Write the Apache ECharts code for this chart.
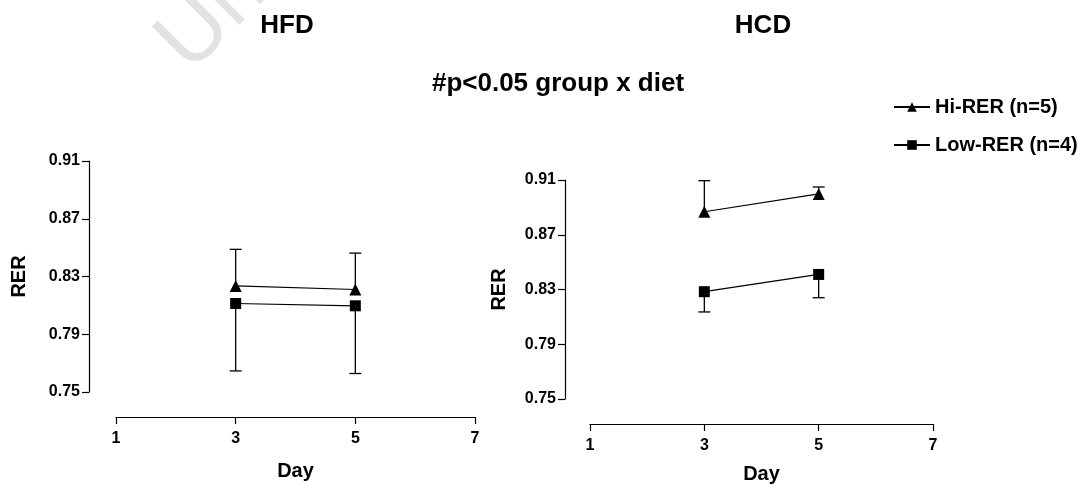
<!DOCTYPE html>
<html>
<head>
<meta charset="utf-8">
<script src="https://cdn.jsdelivr.net/npm/echarts@6/dist/echarts.min.js"></script>
<style>
html,body{margin:0;padding:0;background:#fff;}
#chart{width:1084px;height:485px;}
</style>
</head>
<body>
<div id="chart"></div>
<script>
// ---- data ----
const days = [3, 5];
const xTicks = [1, 3, 5, 7];
const yTicks = [0.75, 0.79, 0.83, 0.87, 0.91];
const seriesNames = ['Hi-RER (n=5)', 'Low-RER (n=4)'];
const panelTitles = ['HFD', 'HCD'];
const mainTitle = '#p<0.05 group x diet';

const hfdHiMean = [0.8235, 0.8210];
const hfdHiErr = [0.0253, 0.0252];     // upward
const hfdLowMean = [0.8113, 0.8097];
const hfdLowErr = [0.0467, 0.0469];    // downward

const hcdHiMean = [0.8868, 0.8998];
const hcdHiErr = [0.0227, 0.0051];     // upward
const hcdLowMean = [0.8284, 0.8410];
const hcdLowErr = [0.0148, 0.0170];    // downward

// ---- chart ----
const FONT = '"Liberation Sans", Arial, sans-serif';
const chart = echarts.init(document.getElementById('chart'), null, {renderer: 'canvas'});

function pts(means) { return days.map((d, i) => [d, means[i]]); }
function errPts(means, errs, dir) { return days.map((d, i) => [d, means[i], errs[i], dir]); }

function errRender(params, api) {
  const x = api.value(0), m = api.value(1), e = api.value(2), d = api.value(3);
  const p0 = api.coord([x, m]);
  const p1 = api.coord([x, m + d * e]);
  const half = 6;
  const st = {stroke: '#000', lineWidth: 1.3};
  return {
    type: 'group',
    children: [
      {type: 'line', shape: {x1: p0[0], y1: p0[1], x2: p1[0], y2: p1[1]}, style: st},
      {type: 'line', shape: {x1: p1[0] - half, y1: p1[1], x2: p1[0] + half, y2: p1[1]}, style: st}
    ]
  };
}

function xAx(idx, offset, gap) {
  return {
    type: 'value', gridIndex: idx, min: xTicks[0], max: xTicks[xTicks.length - 1], interval: 2,
    offset: offset,
    name: 'Day', nameLocation: 'middle', nameGap: gap,
    nameTextStyle: {fontFamily: FONT, fontWeight: 'bold', fontSize: 20, color: '#000'},
    axisLine: {show: true, lineStyle: {color: '#000', width: 1.2}},
    axisTick: {show: true, length: 7, lineStyle: {color: '#000', width: 1.2}},
    axisLabel: {fontFamily: FONT, fontWeight: 'bold', fontSize: 16, color: '#000', margin: 14},
    splitLine: {show: false}
  };
}
function yAx(idx, offset, gap) {
  return {
    type: 'value', gridIndex: idx, min: yTicks[0], max: yTicks[yTicks.length - 1], interval: 0.04,
    offset: offset,
    name: 'RER', nameLocation: 'middle', nameGap: gap, nameRotate: 90,
    nameTextStyle: {fontFamily: FONT, fontWeight: 'bold', fontSize: 20, color: '#000'},
    axisLine: {show: true, lineStyle: {color: '#000', width: 1.2}},
    axisTick: {show: true, length: 7, lineStyle: {color: '#000', width: 1.2}},
    axisLabel: {fontFamily: FONT, fontWeight: 'bold', fontSize: 16, color: '#000', margin: 9,
      formatter: v => v.toFixed(2)},
    splitLine: {show: false}
  };
}
function lineSeries(name, idx, data, symbol, size) {
  return {
    type: 'line', name: name, xAxisIndex: idx, yAxisIndex: idx, data: data,
    symbol: symbol, symbolSize: size, z: 5,
    itemStyle: {color: '#000'}, lineStyle: {color: '#000', width: 1.2},
    animation: false
  };
}
function errSeries(idx, data) {
  return {type: 'custom', xAxisIndex: idx, yAxisIndex: idx, data: data, renderItem: errRender,
    z: 3, silent: true, animation: false, clip: false};
}

const option = {
  backgroundColor: '#fff',
  animation: false,
  grid: [
    {left: 116, top: 161, width: 359, height: 231},
    {left: 590, top: 180, width: 343, height: 221}
  ],
  xAxis: [xAx(0, 25, 44), xAx(1, 25, 40)],
  yAxis: [yAx(0, 27, 60), yAx(1, 25, 56)],
  legend: {
    orient: 'vertical', left: 888, top: 92, itemWidth: 36, itemHeight: 12, itemGap: 18,
    data: seriesNames,
    textStyle: {fontFamily: FONT, fontWeight: 'bold', fontSize: 20, color: '#000', lineHeight: 20},
    selectedMode: false
  },
  graphic: [
    {type: 'text', silent: true, rotation: Math.PI / 4, x: 204, y: 88,
      style: {text: 'Un', font: 'normal 88px ' + FONT, fill: '#e2e2e2', textAlign: 'left', textVerticalAlign: 'bottom'}, z: -1},
    {type: 'text', silent: true, x: 287, y: 26,
      style: {text: panelTitles[0], font: 'bold 26px ' + FONT, fill: '#000', textAlign: 'center', textVerticalAlign: 'middle'}},
    {type: 'text', silent: true, x: 763, y: 26,
      style: {text: panelTitles[1], font: 'bold 26px ' + FONT, fill: '#000', textAlign: 'center', textVerticalAlign: 'middle'}},
    {type: 'text', silent: true, x: 558, y: 84,
      style: {text: mainTitle, font: 'bold 26px ' + FONT, fill: '#000', textAlign: 'center', textVerticalAlign: 'middle'}}
  ],
  series: [
    errSeries(0, errPts(hfdHiMean, hfdHiErr, 1)),
    errSeries(0, errPts(hfdLowMean, hfdLowErr, -1)),
    errSeries(1, errPts(hcdHiMean, hcdHiErr, 1)),
    errSeries(1, errPts(hcdLowMean, hcdLowErr, -1)),
    lineSeries(seriesNames[0], 0, pts(hfdHiMean), 'triangle', 12),
    lineSeries(seriesNames[1], 0, pts(hfdLowMean), 'rect', 11),
    lineSeries(seriesNames[0], 1, pts(hcdHiMean), 'triangle', 12),
    lineSeries(seriesNames[1], 1, pts(hcdLowMean), 'rect', 11)
  ]
};
chart.setOption(option);
</script>
</body>
</html>
